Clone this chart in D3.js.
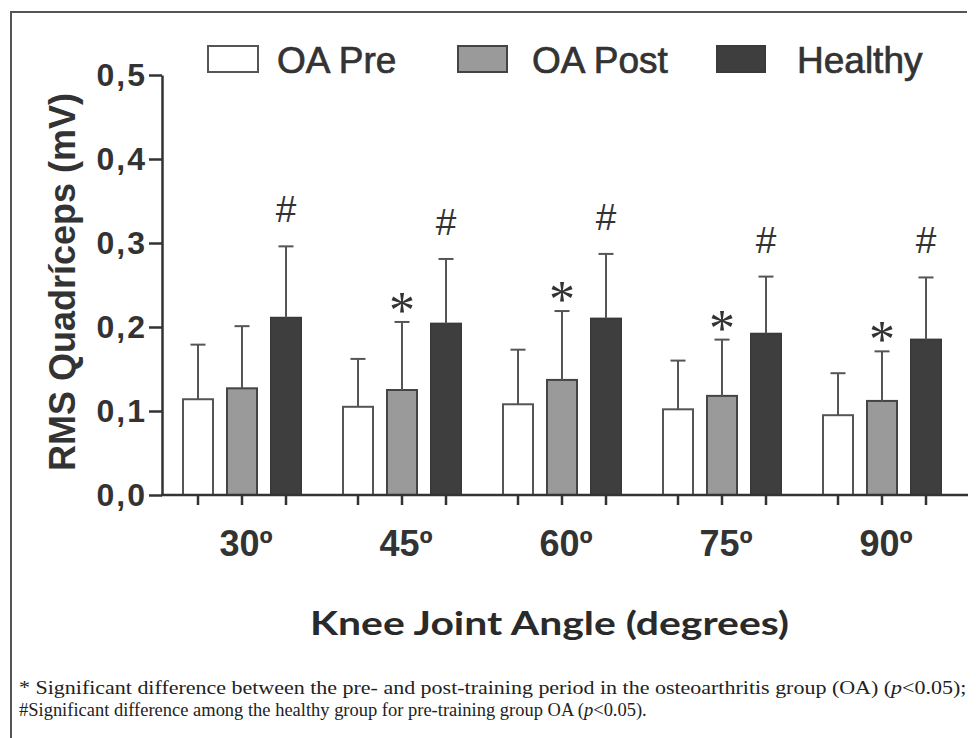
<!DOCTYPE html>
<html><head><meta charset="utf-8">
<script src="https://cdn.jsdelivr.net/npm/d3@7"></script>
<style>body{margin:0;background:#fff}</style>
</head><body>
<svg id="c" width="976" height="738"></svg>
<script>
const categories = ["30º","45º","60º","75º","90º"];
const seriesNames = ["OA Pre","OA Post","Healthy"];
const oaPre = [0.114,0.105,0.108,0.102,0.095];
const oaPreSD = [0.065,0.057,0.065,0.058,0.050];
const oaPost = [0.127,0.125,0.137,0.118,0.112];
const oaPostSD = [0.074,0.081,0.082,0.067,0.059];
const healthy = [0.211,0.204,0.210,0.192,0.185];
const healthySD = [0.085,0.077,0.077,0.068,0.074];
const yTicks = [0,0.1,0.2,0.3,0.4,0.5];
const starOnPost = [false,true,true,true,true];
const hashOnHealthy = [true,true,true,true,true];
const yTitle = "RMS Quadríceps (mV)";
const xTitle = "Knee Joint Angle (degrees)";
const note1 = ["* Significant difference between the pre- and post-training period in the osteoarthritis group (OA) (", "p", "<0.05);"];
const note2 = ["#Significant difference among the healthy group for pre-training group OA (", "p", "<0.05)."];

const means = [oaPre, oaPost, healthy];
const sds = [oaPreSD, oaPostSD, healthySD];
const fills = ["#ffffff","#9a9a9a","#3e3e3e"];
const strokes = ["#555","#444","#3a3a3a"];
const ink = "#333";

const svg = d3.select("#c");

// frame
svg.append("path").attr("d","M11,738 V12 H967").attr("fill","none").attr("stroke","#555").attr("stroke-width",2);

const x0 = d3.scaleBand().domain(categories).range([162,962]).padding(0);
const x1 = d3.scalePoint().domain(seriesNames).range([-44,44]);
const barW = 30;
const y = d3.scaleLinear().domain([0,0.5]).range([495,75]);

const bars = [];
categories.forEach((c,i)=>{
  seriesNames.forEach((s,j)=>{
    bars.push({cat:c, ser:s, j, i, v:means[j][i], sd:sds[j][i]});
  });
});
const cx = d => x0(d.cat) + x0.bandwidth()/2 + x1(d.ser);

// bars
svg.append("g").selectAll("rect").data(bars).join("rect")
  .attr("x", d=>cx(d)-barW/2).attr("width", barW)
  .attr("y", d=>y(d.v)).attr("height", d=>y(0)-y(d.v))
  .attr("fill", d=>fills[d.j]).attr("stroke", d=>strokes[d.j]).attr("stroke-width",2);

// error bars
const eg = svg.append("g").attr("stroke","#555").attr("stroke-width",2);
eg.selectAll("line.v").data(bars).join("line").attr("class","v")
  .attr("x1",cx).attr("x2",cx).attr("y1",d=>y(d.v)).attr("y2",d=>y(d.v+d.sd));
eg.selectAll("line.c").data(bars).join("line").attr("class","c")
  .attr("x1",d=>cx(d)-7.5).attr("x2",d=>cx(d)+7.5).attr("y1",d=>y(d.v+d.sd)).attr("y2",d=>y(d.v+d.sd));

// significance marks
const stars = bars.filter(d=>d.j===1 && starOnPost[d.i]);
svg.append("g").selectAll("text").data(stars).join("text")
  .attr("x",cx).attr("y",d=>y(d.v+d.sd)-24+30)
  .attr("text-anchor","middle").attr("font-family","'Liberation Serif', 'Times New Roman', serif")
  .attr("font-size",52).attr("fill",ink).text("*");
const hashes = bars.filter(d=>d.j===2 && hashOnHealthy[d.i]);
svg.append("g").selectAll("text").data(hashes).join("text")
  .attr("x",cx).attr("y",d=>y(d.v+d.sd)-37+13)
  .attr("text-anchor","middle").attr("font-family","Liberation Sans, Arial, sans-serif")
  .attr("font-size",37).attr("fill",ink).text("#");

// y axis
const ya = svg.append("g").attr("transform","translate(162,0)")
  .call(d3.axisLeft(y).tickValues(yTicks).tickSize(13).tickSizeOuter(0).tickPadding(2)
    .tickFormat(d=>d.toFixed(1).replace(".",",")));
ya.select(".domain").attr("stroke",ink).attr("stroke-width",2.5);
ya.selectAll(".tick line").attr("stroke",ink).attr("stroke-width",2.5);
ya.selectAll(".tick text").attr("font-family","Liberation Sans, Arial, sans-serif")
  .attr("font-weight","bold").attr("font-size",32).attr("fill",ink).attr("letter-spacing",2);

// x axis line and ticks under every bar
svg.append("line").attr("x1",161).attr("x2",968).attr("y1",y(0)).attr("y2",y(0))
  .attr("stroke",ink).attr("stroke-width",2.5);
svg.append("g").selectAll("line").data(bars).join("line")
  .attr("x1",cx).attr("x2",cx).attr("y1",y(0)).attr("y2",y(0)+10)
  .attr("stroke",ink).attr("stroke-width",2.5);
svg.append("g").selectAll("text").data(categories).join("text")
  .attr("x",d=>x0(d)+x0.bandwidth()/2+4).attr("y",556)
  .attr("text-anchor","middle").attr("font-family","Liberation Sans, Arial, sans-serif")
  .attr("font-weight","bold").attr("font-size",36).attr("fill",ink).text(d=>d);

// titles
svg.append("text").attr("transform","translate(75,282) rotate(-90)")
  .attr("text-anchor","middle").attr("font-family","Liberation Sans, Arial, sans-serif")
  .attr("font-weight","bold").attr("font-size",36).attr("fill",ink).text(yTitle);
svg.append("text").attr("x",310).attr("y",635)
  .attr("textLength",479).attr("lengthAdjust","spacingAndGlyphs")
  .attr("font-family","Lato, 'Open Sans', sans-serif")
  .attr("font-weight","bold").attr("font-size",32).attr("fill","#2a2a2a").text(xTitle);

// legend
const legBox = [[208,50],[458,49],[717,48]];
const legText = [277,532,797];
const lg = svg.append("g");
seriesNames.forEach((s,j)=>{
  lg.append("rect").attr("x",legBox[j][0]).attr("y",46).attr("width",legBox[j][1]).attr("height",26)
    .attr("fill",fills[j]).attr("stroke",strokes[j]).attr("stroke-width",2);
  lg.append("text").attr("x",legText[j]).attr("y",73)
    .attr("font-family","Liberation Sans, Arial, sans-serif").attr("font-size",37)
    .attr("fill",ink).attr("stroke",ink).attr("stroke-width",0.7).text(s);
});

// notes
function note(parts, yb, width){
  const t = svg.append("text").attr("x",0).attr("y",0)
    .attr("font-family","'Liberation Serif', 'Times New Roman', serif").attr("font-size",18).attr("fill","#222");
  parts.forEach((p,k)=>{ t.append("tspan").attr("font-style", k===1?"italic":"normal").text(p); });
  const w = t.node().getComputedTextLength();
  t.attr("transform",`translate(19,${yb}) scale(${width/w},1)`);
}
note(note1, 694, 948);
note(note2, 716, 628);
</script>
</body></html>
